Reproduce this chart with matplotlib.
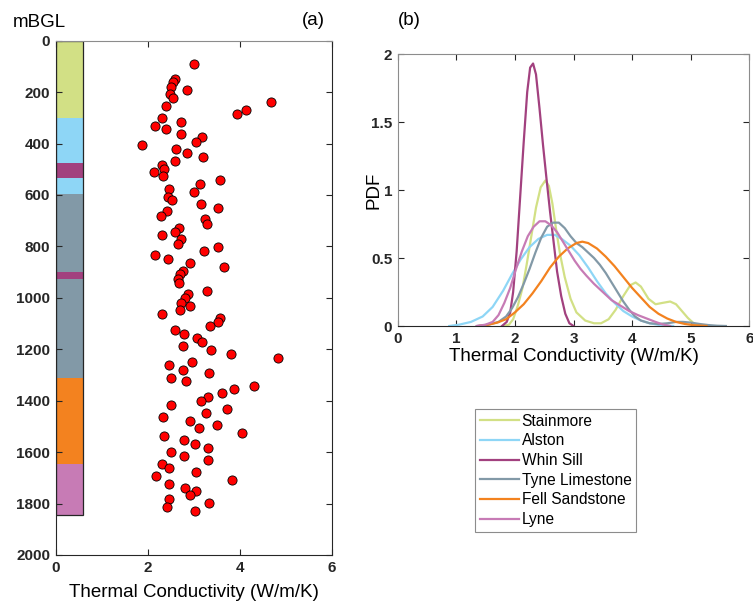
import numpy as np
import matplotlib
matplotlib.use('Agg')
import matplotlib.pyplot as plt

plt.rcParams['font.family'] = ['Liberation Sans', 'DejaVu Sans']

# ---- panel (a): thermal conductivity vs depth ----
tc = [3.00, 2.60, 2.55, 2.51, 2.85, 2.48, 2.55, 4.69, 4.14, 3.95, 2.39, 2.30, 2.73, 2.16,
      2.39, 2.72, 3.17, 3.04, 1.88, 2.62, 2.85, 3.20, 2.60, 2.32, 2.36, 2.14, 2.33, 3.57,
      3.14, 2.46, 3.01, 2.45, 2.53, 3.15, 3.52, 2.41, 2.28, 3.25, 3.28, 2.69, 2.60, 2.72,
      2.30, 2.66, 3.53, 3.22, 2.16, 2.44, 2.92, 3.66, 2.76, 2.70, 2.65, 2.68, 3.29, 2.88,
      2.82, 2.72, 2.93, 2.70, 2.31, 3.58, 3.52, 3.36, 2.60, 2.78, 3.07, 3.17, 2.76, 3.38,
      3.80, 4.84, 2.96, 2.47, 2.77, 3.34, 2.51, 2.84, 4.30, 3.88, 3.62, 3.32, 3.16, 2.51,
      3.73, 3.26, 2.33, 2.92, 3.51, 3.12, 4.06, 2.36, 2.78, 3.02, 3.30, 2.50, 2.78, 3.32,
      2.31, 2.47, 3.06, 2.19, 3.83, 2.47, 2.81, 3.06, 2.91, 2.46, 3.33, 2.43, 3.03]
depth = [92, 147, 161, 179, 192, 208, 223, 237, 268, 284, 253, 300, 315, 331,
         345, 362, 375, 393, 406, 420, 437, 451, 468, 484, 498, 512, 528, 543,
         559, 575, 590, 606, 621, 634, 651, 664, 682, 694, 712, 728, 742, 772,
         757, 789, 804, 818, 834, 848, 865, 879, 895, 909, 925, 942, 973, 986,
         1000, 1019, 1032, 1048, 1063, 1079, 1095, 1110, 1126, 1141, 1155, 1171, 1187, 1202,
         1218, 1233, 1248, 1263, 1279, 1294, 1310, 1324, 1341, 1355, 1371, 1386, 1402, 1416,
         1432, 1447, 1463, 1477, 1493, 1508, 1524, 1538, 1554, 1569, 1585, 1600, 1615, 1632,
         1646, 1661, 1677, 1692, 1707, 1722, 1738, 1753, 1768, 1784, 1799, 1814, 1829]

# stratigraphic column
layer_unit = ['Stainmore', 'Alston', 'Whin Sill', 'Alston', 'Tyne Limestone',
              'Whin Sill', 'Tyne Limestone', 'Fell Sandstone', 'Lyne']
layer_top = [0, 300, 475, 535, 595, 900, 925, 1310, 1645]
layer_base = [300, 475, 535, 595, 900, 925, 1310, 1645, 1845]

colors = {'Stainmore': '#d2e085', 'Alston': '#8ed6f6', 'Whin Sill': '#a2417f',
          'Tyne Limestone': '#8299a7', 'Fell Sandstone': '#f3821f', 'Lyne': '#c77bb5'}

# ---- panel (b): PDFs ----
x_stain = [1.80, 1.90, 1.97, 2.05, 2.13, 2.20, 2.28, 2.36, 2.44, 2.52, 2.58, 2.64, 2.70, 2.77,
           2.85, 2.95, 3.05, 3.20, 3.35, 3.47, 3.60, 3.72, 3.85, 3.97, 4.06, 4.15, 4.28, 4.40,
           4.52, 4.65, 4.75, 4.85, 4.95, 5.05, 5.15]
p_stain = [0, 0.01, 0.05, 0.15, 0.28, 0.45, 0.66, 0.87, 1.02, 1.07, 1.03, 0.90, 0.72, 0.53,
           0.36, 0.20, 0.10, 0.04, 0.02, 0.02, 0.05, 0.12, 0.22, 0.30, 0.32, 0.29, 0.20, 0.16,
           0.17, 0.18, 0.16, 0.11, 0.06, 0.02, 0]
x_alston = [0.88, 1.05, 1.25, 1.45, 1.62, 1.80, 1.95, 2.10, 2.25, 2.40, 2.55, 2.68, 2.80,
            2.95, 3.10, 3.25, 3.40, 3.55, 3.70, 3.85, 4.00, 4.15, 4.30, 4.50, 4.70]
p_alston = [0, 0.01, 0.03, 0.07, 0.14, 0.26, 0.38, 0.49, 0.58, 0.64, 0.67, 0.67, 0.64,
            0.59, 0.52, 0.43, 0.33, 0.24, 0.17, 0.11, 0.07, 0.04, 0.02, 0.005, 0]
x_whin = [1.78, 1.86, 1.92, 1.97, 2.03, 2.09, 2.15, 2.21, 2.26, 2.31, 2.36, 2.42, 2.48, 2.54,
          2.60, 2.66, 2.72, 2.79, 2.86, 2.93, 3.00]
p_whin = [0, 0.03, 0.10, 0.25, 0.55, 0.95, 1.35, 1.72, 1.90, 1.93, 1.85, 1.60, 1.33, 1.08,
          0.84, 0.62, 0.40, 0.22, 0.09, 0.02, 0]
x_tyne = [1.35, 1.55, 1.72, 1.85, 1.95, 2.05, 2.15, 2.25, 2.35, 2.45, 2.55, 2.65, 2.75, 2.85,
          2.95, 3.05, 3.15, 3.25, 3.35, 3.45, 3.55, 3.65, 3.75, 3.85, 3.95, 4.05, 4.15, 4.30,
          4.45, 4.60, 4.75, 4.87, 5.00, 5.15, 5.30, 5.45, 5.60]
p_tyne = [0, 0.01, 0.03, 0.07, 0.13, 0.21, 0.31, 0.42, 0.54, 0.65, 0.73, 0.76, 0.76, 0.72,
          0.66, 0.61, 0.58, 0.54, 0.50, 0.45, 0.39, 0.32, 0.25, 0.18, 0.12, 0.07, 0.04, 0.02,
          0.015, 0.02, 0.03, 0.03, 0.025, 0.015, 0.007, 0.002, 0]
x_fell = [1.38, 1.55, 1.70, 1.85, 2.00, 2.15, 2.30, 2.45, 2.60, 2.75, 2.90, 3.05, 3.15, 3.25,
          3.40, 3.55, 3.70, 3.85, 4.00, 4.15, 4.30, 4.45, 4.60, 4.75, 4.90, 5.05, 5.27]
p_fell = [0, 0.01, 0.025, 0.05, 0.10, 0.16, 0.24, 0.33, 0.43, 0.51, 0.57, 0.61, 0.62, 0.61,
          0.57, 0.51, 0.44, 0.36, 0.28, 0.21, 0.14, 0.09, 0.055, 0.03, 0.015, 0.006, 0]
x_lyne = [1.35, 1.50, 1.62, 1.72, 1.82, 1.92, 2.02, 2.12, 2.22, 2.32, 2.42, 2.52, 2.62, 2.72,
          2.82, 2.92, 3.02, 3.12, 3.22, 3.35, 3.50, 3.65, 3.80, 3.95, 4.10, 4.25, 4.40, 4.52, 4.65]
p_lyne = [0, 0.01, 0.03, 0.08, 0.17, 0.28, 0.42, 0.55, 0.66, 0.73, 0.77, 0.77, 0.74, 0.69,
          0.62, 0.55, 0.48, 0.42, 0.37, 0.31, 0.25, 0.19, 0.15, 0.11, 0.08, 0.055, 0.03, 0.012, 0]

pdfs = [('Stainmore', x_stain, p_stain), ('Alston', x_alston, p_alston),
        ('Whin Sill', x_whin, p_whin), ('Tyne Limestone', x_tyne, p_tyne),
        ('Fell Sandstone', x_fell, p_fell), ('Lyne', x_lyne, p_lyne)]

W, H = 753, 602
fig = plt.figure(figsize=(W / 100, H / 100), dpi=100)

dark = '#262626'
grey = '#8c8c8c'

# ---------- (a) ----------
ax1 = fig.add_axes([55.7 / W, 1 - 555 / H, 276 / W, 514.3 / H])
for u, t, b in zip(layer_unit, layer_top, layer_base):
    ax1.bar(0, b - t, bottom=t, width=0.6, align='edge', color=colors[u], edgecolor='none', zorder=1)
ax1.bar(0, layer_base[-1] - layer_top[0], bottom=layer_top[0], width=0.6, align='edge',
        fill=False, edgecolor=dark, linewidth=0.9, zorder=2)
ax1.plot(tc, depth, 'o', ms=6.6, mfc='#ff0000', mec='k', mew=0.6, zorder=3)
ax1.set_xlim(0, 6)
ax1.set_ylim(2000, 0)
ax1.set_xticks([0, 2, 4, 6])
ax1.set_yticks(np.arange(0, 2001, 200))
ax1.set_xlabel('Thermal Conductivity (W/m/K)', fontsize=13.5, labelpad=7)
ax1.tick_params(direction='in', top=True, right=True, length=4, width=0.8, pad=4, colors=dark)
for lab in ax1.get_xticklabels() + ax1.get_yticklabels():
    lab.set_fontweight('bold')
    lab.set_fontsize(11)
for s in ['left', 'bottom', 'right']:
    ax1.spines[s].set_color(dark)
ax1.spines['top'].set_color(grey)

fig.text(13 / W, 1 - 27 / H, 'mBGL', fontsize=13.5, va='baseline', ha='left')
fig.text(302 / W, 1 - 25 / H, '(a)', fontsize=13.5, va='baseline', ha='left')

# ---------- (b) ----------
ax2 = fig.add_axes([397.7 / W, 1 - 326 / H, 351.6 / W, 272 / H])
for name, xs, ps in pdfs:
    ax2.plot(xs, ps, color=colors[name], lw=1.6, label=name)
ax2.set_xlim(0, 6)
ax2.set_ylim(0, 2)
ax2.set_xticks(np.arange(0, 7, 1))
ax2.set_yticks([0, 0.5, 1, 1.5, 2])
ax2.set_yticklabels(['0', '0.5', '1', '1.5', '2'])
ax2.set_xlabel('Thermal Conductivity (W/m/K)', fontsize=13.5, labelpad=2)
ax2.set_ylabel('PDF', fontsize=13.5, labelpad=-8)
ax2.tick_params(direction='in', top=True, right=True, length=4, width=0.8, pad=4, colors=dark)
for lab in ax2.get_xticklabels() + ax2.get_yticklabels():
    lab.set_fontweight('bold')
    lab.set_fontsize(11)
ax2.spines['bottom'].set_color(dark)
for s in ['left', 'top', 'right']:
    ax2.spines[s].set_color(grey)

fig.text(398 / W, 1 - 25 / H, '(b)', fontsize=13.5, va='baseline', ha='left')

handles, labels = ax2.get_legend_handles_labels()
leg = fig.legend(handles, labels, loc='upper left', bbox_to_anchor=(475 / W, 1 - 409 / H),
                 fontsize=11.2, frameon=True, fancybox=False, edgecolor='#707070',
                 handlelength=2.5, handletextpad=0.2, labelspacing=0.3, borderpad=0.3,
                 borderaxespad=0)
leg.get_frame().set_linewidth(0.8)

fig.savefig('out.png', dpi=100)
